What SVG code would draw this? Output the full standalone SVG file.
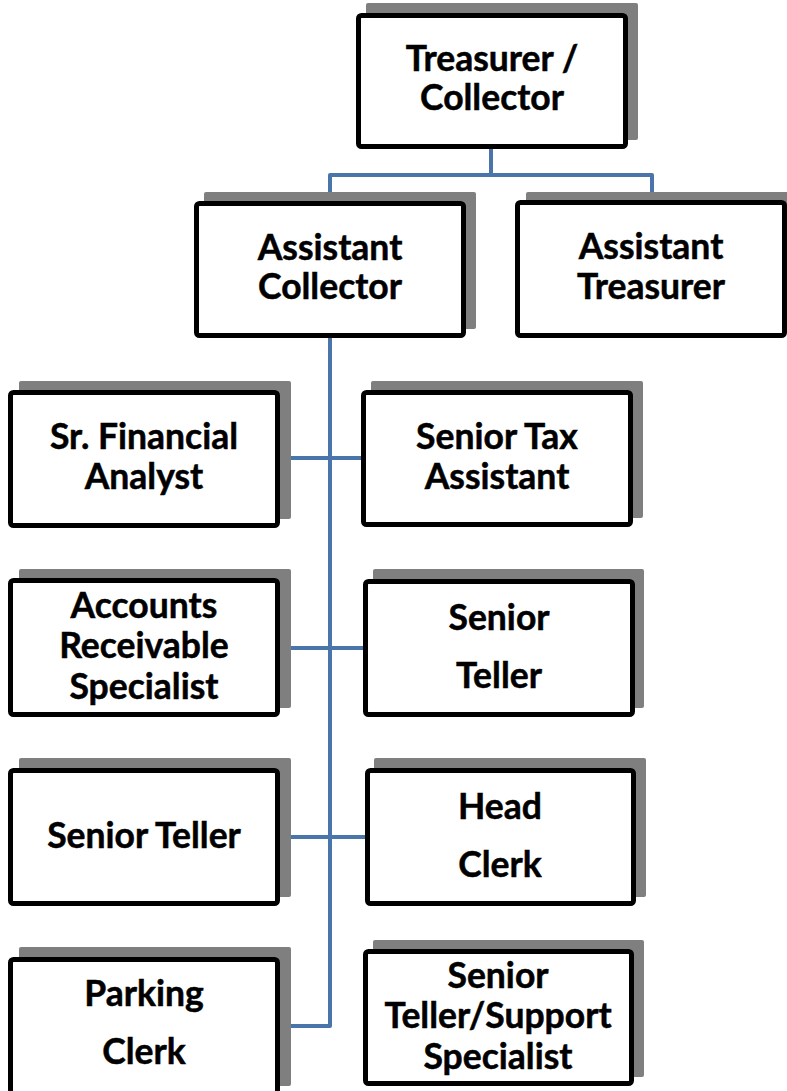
<svg xmlns="http://www.w3.org/2000/svg" width="787" height="1091" viewBox="0 0 787 1091">
<style>
.sh{fill:#7f7f7f}
.bx{fill:#ffffff;stroke:#000000;stroke-width:5}
.t{font-family:Lato,"Open Sans","Liberation Sans",sans-serif;font-weight:bold;font-size:35.5px;fill:#000000;text-anchor:middle;stroke:#000000;stroke-width:0.5}
.c{fill:none;stroke:#4a75ab;stroke-width:4;stroke-linejoin:round}
</style>
<rect width="787" height="1091" fill="#ffffff"/>
<g id="connectors">
<path class="c" d="M491,148 V175"/>
<path class="c" d="M330,200 V175 H652 V200"/>
<path class="c" d="M330,338 V1026 H280"/>
<path class="c" d="M280,458 H362"/>
<path class="c" d="M280,648 H364"/>
<path class="c" d="M280,837 H366"/>
</g>
<g id="treasurer-collector">
<rect class="sh" x="366" y="3" width="272" height="137" rx="2"/>
<rect class="bx" x="358.5" y="15.5" width="267" height="131" rx="3"/>
<text class="t" x="492" y="71">Treasurer /</text>
<text class="t" x="492" y="110">Collector</text>
</g>
<g id="assistant-collector">
<rect class="sh" x="204" y="192" width="272" height="137" rx="2"/>
<rect class="bx" x="196.5" y="203.5" width="267" height="132" rx="3"/>
<text class="t" x="330" y="260">Assistant</text>
<text class="t" x="330" y="299">Collector</text>
</g>
<g id="assistant-treasurer">
<rect class="sh" x="526" y="192" width="272" height="137" rx="2"/>
<rect class="bx" x="517.5" y="202.5" width="267" height="133" rx="3"/>
<text class="t" x="651" y="259">Assistant</text>
<text class="t" x="651" y="299">Treasurer</text>
</g>
<g id="sr-financial-analyst">
<rect class="sh" x="19" y="381" width="272" height="138" rx="2"/>
<rect class="bx" x="10.5" y="392.5" width="267" height="133" rx="3"/>
<text class="t" x="144" y="449">Sr. Financial</text>
<text class="t" x="144" y="489">Analyst</text>
</g>
<g id="senior-tax-assistant">
<rect class="sh" x="371" y="381" width="272" height="137" rx="2"/>
<rect class="bx" x="363.5" y="392.5" width="267" height="132" rx="3"/>
<text class="t" x="497" y="449">Senior Tax</text>
<text class="t" x="497" y="489">Assistant</text>
</g>
<g id="accounts-receivable-specialist">
<rect class="sh" x="19" y="569" width="272" height="139" rx="2"/>
<rect class="bx" x="10.5" y="580.5" width="267" height="134" rx="3"/>
<text class="t" x="144" y="618">Accounts</text>
<text class="t" x="144" y="658">Receivable</text>
<text class="t" x="144" y="699">Specialist</text>
</g>
<g id="senior-teller-right">
<rect class="sh" x="373" y="569" width="271" height="139" rx="2"/>
<rect class="bx" x="365.5" y="581.5" width="267" height="133" rx="3"/>
<text class="t" x="499" y="630">Senior</text>
<text class="t" x="499" y="688">Teller</text>
</g>
<g id="senior-teller-left">
<rect class="sh" x="19" y="758" width="272" height="139" rx="2"/>
<rect class="bx" x="10.5" y="770.5" width="267" height="133" rx="3"/>
<text class="t" x="144" y="848">Senior Teller</text>
</g>
<g id="head-clerk">
<rect class="sh" x="374" y="758" width="272" height="139" rx="2"/>
<rect class="bx" x="367.5" y="770.5" width="266" height="133" rx="3"/>
<text class="t" x="500" y="819">Head</text>
<text class="t" x="500" y="877">Clerk</text>
</g>
<g id="parking-clerk">
<rect class="sh" x="19" y="947" width="272" height="139" rx="2"/>
<rect class="bx" x="10.5" y="959.5" width="267" height="134" rx="3"/>
<text class="t" x="144" y="1006">Parking</text>
<text class="t" x="144" y="1064">Clerk</text>
</g>
<g id="senior-teller-support-specialist">
<rect class="sh" x="373" y="940" width="271" height="137" rx="2"/>
<rect class="bx" x="365.5" y="951.5" width="266" height="132" rx="3"/>
<text class="t" x="498" y="988">Senior</text>
<text class="t" x="498" y="1028">Teller/Support</text>
<text class="t" x="498" y="1069">Specialist</text>
</g>
</svg>
